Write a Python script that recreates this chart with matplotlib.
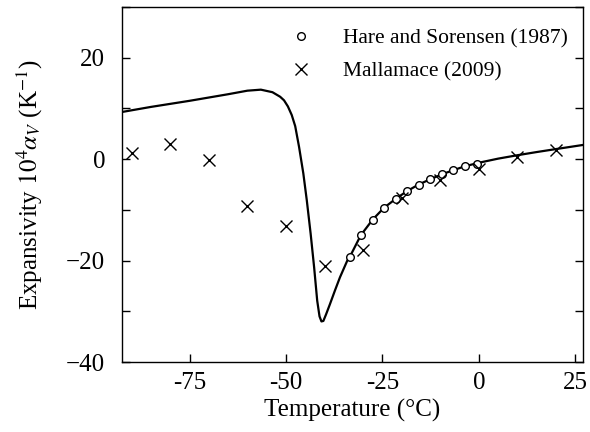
import matplotlib
matplotlib.use("Agg")
import matplotlib.pyplot as plt
from matplotlib.ticker import MultipleLocator

plt.rcParams['font.family'] = ['Liberation Serif', 'DejaVu Serif']
plt.rcParams['mathtext.fontset'] = 'stix'

# model curve for the thermal expansivity (10^4 alpha_V, 1/K)
curve_t = [-92.5, -85, -75, -65, -60, -56.5, -53.5, -51.5, -50.5, -49.5,
           -48.5, -47.6, -46.6, -45.5, -44.6, -43.6, -42.7, -41.9, -41.3,
           -40.8, -40.3, -39.6, -38.6, -37.3, -36.0, -34.1, -33.4, -30.6,
           -27.5, -24.6, -21.5, -18.6, -15.6, -12.7, -9.6, -6.7, -3.6, 0.3,
           5, 10.2, 15, 20.1, 27]
curve_a = [9.3, 10.3, 11.5, 12.8, 13.5, 13.7, 13.2, 12.3, 11.6, 10.4,
           8.7, 6.5, 2.4, -2.8, -8.1, -14.7, -21.3, -27.9, -31.0,
           -32.0, -31.9, -30.6, -28.6, -25.9, -23.3, -20.0, -19.2, -15.0,
           -11.9, -9.6, -7.8, -6.3, -5.0, -4.0, -3.0, -2.2, -1.4, -0.66,
           0.1, 0.8, 1.4, 2.0, 2.8]

# Hare and Sorensen (1987)
hare_t = [-33.4, -30.6, -27.5, -24.6, -21.5, -18.6, -15.6, -12.7, -9.6, -6.7, -3.6, -0.6]
hare_a = [-19.2, -15.0, -11.9, -9.6, -7.8, -6.3, -5.0, -4.0, -3.0, -2.2, -1.4, -0.9]

# Mallamace (2009)
mall_t = [-90, -80, -70, -60, -50, -40, -30, -20, -10, 0, 10, 20]
mall_a = [1.2, 2.9, -0.1, -9.3, -13.2, -21.0, -18.0, -7.7, -4.2, -2.0, 0.5, 1.8]

xticks = [-75, -50, -25, 0, 25]
xticklabels = ['-75', '-50', '-25', '0', '25']
yticks = [-40, -20, 0, 20]
yticklabels = ['\u221240', '\u221220', '0', '20']

fig = plt.figure(figsize=(5.9, 4.32), dpi=100)
ax = fig.add_axes([0.2068, 0.162, 0.7813, 0.8218])

ax.plot(curve_t, curve_a, color='black', lw=1.6, zorder=2)
ax.plot(hare_t, hare_a, 'o', mfc='white', mec='black', mew=1.0, ms=5.5,
        label='Hare and Sorensen (1987)', zorder=3)
ax.plot(mall_t, mall_a, 'x', color='black', mew=1.0, ms=8,
        label='Mallamace (2009)', zorder=3)

ax.set_xlim(-92.5, 27)
ax.set_ylim(-40, 30)

ax.set_xticks(xticks)
ax.set_xticklabels(xticklabels)
ax.set_yticks(yticks)
ax.set_yticklabels(yticklabels)
ax.yaxis.set_minor_locator(MultipleLocator(10))

ax.tick_params(axis='both', which='both', direction='in', length=6,
               width=1.0, labelsize=18)
ax.tick_params(axis='y', which='both', right=True, pad=12)
ax.tick_params(axis='x', which='both', top=False, pad=7)

for s in ax.spines.values():
    s.set_linewidth(1.0)

ax.set_xlabel('Temperature (\u00b0C)', fontsize=18, labelpad=4)
ax.set_ylabel(r'Expansivity $10^4\alpha_V$ (K$^{-1}$)', fontsize=18, labelpad=15)

ax.legend(loc='upper right', bbox_to_anchor=(1.013, 1.0), frameon=False,
          fontsize=15.5, handletextpad=1.13, borderaxespad=0.6,
          labelspacing=0.6, handlelength=1.6)

fig.savefig('out.png', dpi=100)
